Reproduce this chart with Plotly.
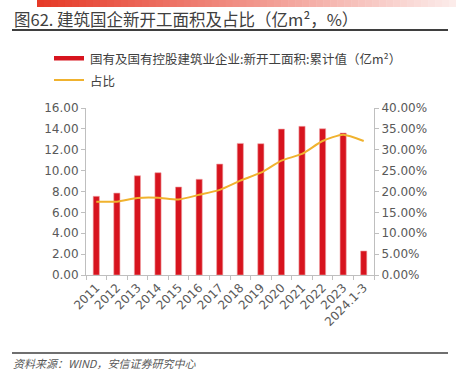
import plotly.graph_objects as go

categories = ["2011", "2012", "2013", "2014", "2015", "2016", "2017", "2018",
              "2019", "2020", "2021", "2022", "2023", "2024.1-3"]
area_values = [7.54, 7.85, 9.51, 9.80, 8.43, 9.17, 10.63, 12.61, 12.58,
               13.98, 14.24, 14.01, 13.60, 2.30]
share_values = [0.1756, 0.1756, 0.1844, 0.1850, 0.1810, 0.1920, 0.2040,
                0.2260, 0.2450, 0.2740, 0.2900, 0.3210, 0.3360, 0.3210]
bar_name = "国有及国有控股建筑业企业:新开工面积:累计值（亿m²）"
line_name = "占比"
title_text = "图62. 建筑国企新开工面积及占比（亿m²，%）"
source_text = "资料来源：WIND，安信证券研究中心"

W, H = 456, 377
L, R, T, B = 86, 82, 108, 102
PW, PH = W - L - R, H - T - B

def px(x):
    return (x - L) / PW

def py(y):
    return (H - B - y) / PH

BAR_COLOR = "#D7141E"
LINE_COLOR = "#F0B22E"
TICK_COLOR = "#595959"
AXIS_COLOR = "#BFBFBF"
FONT = "Noto Sans CJK SC"

fig = go.Figure()
fig.add_trace(go.Bar(
    x=categories, y=area_values, name=bar_name,
    marker=dict(color=BAR_COLOR, line=dict(color="#F0A3A6", width=0.6)),
    yaxis="y", showlegend=False,
))
fig.add_trace(go.Scatter(
    x=categories, y=share_values, name=line_name, mode="lines",
    line=dict(color=LINE_COLOR, width=2, shape="spline", smoothing=0.6),
    yaxis="y2", showlegend=False,
))

shapes = []
# top gradient band
n = 60
x0p, x1p = 37, 456
c0 = (230, 58, 40)
c1 = (252, 236, 234)
for i in range(n):
    a = x0p + (x1p - x0p) * i / n
    b = x0p + (x1p - x0p) * (i + 1) / n + 0.5
    t = i / (n - 1)
    c = tuple(int(c0[k] + (c1[k] - c0[k]) * t) for k in range(3))
    shapes.append(dict(type="rect", xref="paper", yref="paper",
                       x0=px(a), x1=px(b), y0=py(7), y1=py(0),
                       fillcolor="rgb(%d,%d,%d)" % c, line=dict(width=0), layer="above"))
# title underline
shapes.append(dict(type="line", xref="paper", yref="paper",
                   x0=px(12), x1=px(448), y0=py(30), y1=py(30),
                   line=dict(color="#3F3F3F", width=2)))
# bottom rule
shapes.append(dict(type="line", xref="paper", yref="paper",
                   x0=px(12), x1=px(448), y0=py(353), y1=py(353),
                   line=dict(color="#3F3F3F", width=1.5)))
# legend symbols
shapes.append(dict(type="rect", xref="paper", yref="paper",
                   x0=px(54), x1=px(84), y0=py(60.5), y1=py(56),
                   fillcolor=BAR_COLOR, line=dict(width=0)))
shapes.append(dict(type="line", xref="paper", yref="paper",
                   x0=px(54), x1=px(84), y0=py(80), y1=py(80),
                   line=dict(color=LINE_COLOR, width=2)))

annotations = [
    dict(text=title_text, xref="paper", yref="paper", x=px(12), y=py(19),
         xanchor="left", yanchor="middle", showarrow=False,
         font=dict(family=FONT, size=16.5, color="#404040")),
    dict(text=bar_name, xref="paper", yref="paper", x=px(88), y=py(58),
         xanchor="left", yanchor="middle", showarrow=False,
         font=dict(family=FONT, size=12.5, color="#404040")),
    dict(text=line_name, xref="paper", yref="paper", x=px(88), y=py(80),
         xanchor="left", yanchor="middle", showarrow=False,
         font=dict(family=FONT, size=12.5, color="#404040")),
    dict(text=source_text, xref="paper", yref="paper", x=px(11), y=py(363),
         xanchor="left", yanchor="middle", showarrow=False,
         font=dict(family=FONT, size=11, color="#595959", style="italic")),
]

fig.update_layout(
    width=W, height=H, autosize=False,
    margin=dict(l=L, r=R, t=T, b=B, pad=0),
    paper_bgcolor="white", plot_bgcolor="white",
    bargap=0.7,
    shapes=shapes, annotations=annotations,
    xaxis=dict(type="category", showline=True, linecolor=AXIS_COLOR, linewidth=1,
               ticks="outside", tickson="boundaries", ticklen=4, tickcolor=AXIS_COLOR,
               tickangle=-45, showgrid=False, zeroline=False,
               tickfont=dict(family="DejaVu Sans", size=12, color=TICK_COLOR)),
    yaxis=dict(range=[0, 16], dtick=2, tickformat=".2f", showline=True,
               linecolor=AXIS_COLOR, linewidth=1, ticks="outside", ticklen=4,
               tickcolor=AXIS_COLOR, showgrid=False, zeroline=False,
               tickfont=dict(family="DejaVu Sans", size=12, color=TICK_COLOR)),
    yaxis2=dict(range=[0, 0.40], dtick=0.05, tickformat=".2%", overlaying="y",
                side="right", showline=True, linecolor=AXIS_COLOR, linewidth=1,
                ticks="outside", ticklen=4, tickcolor=AXIS_COLOR, showgrid=False,
                zeroline=False,
                tickfont=dict(family="DejaVu Sans", size=12, color=TICK_COLOR)),
)

fig.write_html("out.html", config={"displayModeBar": False},
               post_script="document.body.style.margin='0';document.body.style.overflow='hidden';")
